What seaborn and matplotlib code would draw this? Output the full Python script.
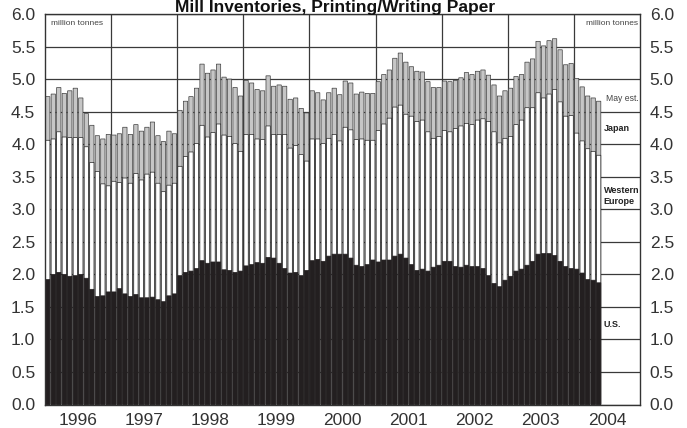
import matplotlib
matplotlib.use("Agg")
import matplotlib.pyplot as plt
import numpy as np
import pandas as pd
import seaborn as sns

# monthly mill inventories, million tonnes, Jan 1996 - May 2004 (May 2004 estimated)
years = ["1996", "1997", "1998", "1999", "2000", "2001", "2002", "2003", "2004"]

# top of U.S. segment
us = [
    1.92, 2.00, 2.03, 2.00, 1.97, 1.98, 2.00, 1.94, 1.77, 1.66, 1.67, 1.73,  # 1996
    1.73, 1.78, 1.70, 1.66, 1.69, 1.64, 1.64, 1.65, 1.61, 1.58, 1.67, 1.70,  # 1997
    1.98, 2.03, 2.05, 2.09, 2.21, 2.17, 2.19, 2.19, 2.07, 2.06, 2.03, 2.05,  # 1998
    2.13, 2.15, 2.18, 2.17, 2.26, 2.25, 2.17, 2.09, 2.02, 2.03, 1.98, 2.06,  # 1999
    2.21, 2.23, 2.20, 2.28, 2.31, 2.31, 2.31, 2.25, 2.14, 2.12, 2.15, 2.22,  # 2000
    2.19, 2.22, 2.22, 2.28, 2.31, 2.25, 2.15, 2.06, 2.08, 2.05, 2.11, 2.14,  # 2001
    2.20, 2.20, 2.12, 2.11, 2.14, 2.12, 2.12, 2.09, 1.98, 1.86, 1.81, 1.91,  # 2002
    1.97, 2.05, 2.08, 2.14, 2.20, 2.31, 2.32, 2.32, 2.29, 2.20, 2.12, 2.09,  # 2003
    2.08, 2.02, 1.92, 1.91, 1.87,                                            # 2004
]

# top of Western Europe segment (U.S. + Western Europe)
us_europe = [
    4.06, 4.08, 4.19, 4.11, 4.10, 4.10, 4.10, 3.96, 3.72, 3.58, 3.39, 3.36,
    3.43, 3.41, 3.48, 3.40, 3.55, 3.45, 3.54, 3.57, 3.40, 3.27, 3.37, 3.40,
    3.66, 3.81, 3.88, 4.01, 4.29, 4.11, 4.18, 4.31, 4.14, 4.12, 4.01, 3.89,
    4.15, 4.15, 4.08, 4.07, 4.28, 4.15, 4.15, 4.15, 3.94, 3.98, 3.84, 3.74,
    4.08, 4.08, 4.01, 4.09, 4.15, 4.05, 4.26, 4.22, 4.07, 4.08, 4.06, 4.06,
    4.21, 4.31, 4.40, 4.57, 4.60, 4.46, 4.43, 4.35, 4.37, 4.19, 4.09, 4.12,
    4.21, 4.19, 4.24, 4.28, 4.32, 4.30, 4.37, 4.39, 4.35, 4.19, 4.02, 4.09,
    4.12, 4.30, 4.37, 4.56, 4.56, 4.79, 4.71, 4.77, 4.84, 4.65, 4.43, 4.44,
    4.17, 4.05, 3.93, 3.89, 3.83,
]

# top of Japan segment (total)
total = [
    4.73, 4.77, 4.87, 4.78, 4.82, 4.86, 4.71, 4.47, 4.29, 4.13, 4.08, 4.15,
    4.14, 4.16, 4.26, 4.15, 4.30, 4.20, 4.26, 4.34, 4.13, 4.04, 4.20, 4.16,
    4.52, 4.66, 4.73, 4.86, 5.23, 5.09, 5.14, 5.23, 5.03, 5.00, 4.87, 4.74,
    4.98, 4.94, 4.84, 4.82, 5.05, 4.89, 4.91, 4.89, 4.69, 4.71, 4.55, 4.48,
    4.82, 4.79, 4.68, 4.79, 4.86, 4.76, 4.97, 4.94, 4.77, 4.80, 4.78, 4.78,
    4.96, 5.07, 5.14, 5.32, 5.40, 5.26, 5.19, 5.12, 5.11, 4.96, 4.87, 4.87,
    4.97, 4.96, 4.98, 5.02, 5.10, 5.07, 5.12, 5.14, 5.06, 4.91, 4.74, 4.82,
    4.86, 5.04, 5.07, 5.26, 5.31, 5.58, 5.51, 5.59, 5.62, 5.45, 5.22, 5.24,
    5.01, 4.88, 4.74, 4.71, 4.66,
]


def main():
    n_slots = 12 * len(years)
    df = pd.DataFrame(
        {"month": range(len(us)), "us": us, "us_europe": us_europe, "total": total}
    )

    sns.set_theme(style="white")
    plt.rcParams["font.family"] = ["Liberation Sans", "DejaVu Sans"]

    fig, ax = plt.subplots(figsize=(6.87, 4.28), dpi=100)
    fig.subplots_adjust(left=45 / 687, right=640 / 687, bottom=1 - 404.5 / 428, top=1 - 14 / 428)

    order = list(range(n_slots))
    layers = [
        ("total", "#c6c6c6", "#3c3c3c"),
        ("us_europe", "white", "#1f1f1f"),
        ("us", "#231f20", "#231f20"),
    ]
    for col, fill, edge in layers:
        sns.barplot(
            data=df, x="month", y=col, order=order, color=fill, saturation=1,
            edgecolor=edge, linewidth=0.5, width=0.78, errorbar=None, ax=ax,
            zorder=2, snap=False,
        )

    ax.set_xlim(-0.5, n_slots - 0.5)
    ax.set_ylim(0, 6)
    ax.set_xlabel("")
    ax.set_ylabel("")

    yt = np.arange(0, 6.01, 0.5)
    ax.set_yticks(yt)
    ax.set_yticklabels([f"{v:.1f}" for v in yt])
    ax.tick_params(axis="y", length=0, labelsize=12.5, labelcolor="#333333",
                   labelleft=True, labelright=True, pad=7)

    bounds = [12 * i - 0.5 for i in range(1, len(years))]
    mids = [12 * i + 5.5 for i in range(len(years))]
    ax.set_xticks(bounds)
    ax.set_xticklabels([])
    ax.set_xticks(mids, minor=True)
    ax.set_xticklabels(years, minor=True)
    ax.tick_params(axis="x", which="major", length=9, width=1, color="#333333", direction="out")
    ax.tick_params(axis="x", which="minor", length=0, labelsize=12.5,
                   labelcolor="#333333", pad=6)

    ax.set_axisbelow(True)
    ax.grid(True, which="major", color="#3a3a3a", linewidth=0.9)
    for s in ax.spines.values():
        s.set_visible(True)
        s.set_color("#333333")
        s.set_linewidth(1)

    ax.text(0.6, 5.85, "million tonnes", fontsize=6, color="#444444", va="center")
    ax.text(107.2, 5.85, "million tonnes", fontsize=6, color="#444444", va="center", ha="right")
    ax.text(107.2, 4.70, "May est.", fontsize=6.2, color="#444444", va="center", ha="right")
    ax.text(100.9, 4.24, "Japan", fontsize=6.5, fontweight="bold", color="#222222", va="center")
    ax.text(100.9, 3.21, "Western\nEurope", fontsize=6.5, fontweight="bold",
            color="#222222", va="center", linespacing=1.3)
    ax.text(100.9, 1.23, "U.S.", fontsize=6.5, fontweight="bold", color="#222222", va="center")

    # the source crops this title at the top edge; keep it just inside the canvas
    fig.text(335 / 687, 1 - 12.3 / 428, "Mill Inventories, Printing/Writing Paper",
             ha="center", va="baseline", fontsize=12.5, fontweight="bold", color="#111111")

    fig.savefig("out.png", dpi=100)
    plt.close(fig)


if __name__ == "__main__":
    main()
